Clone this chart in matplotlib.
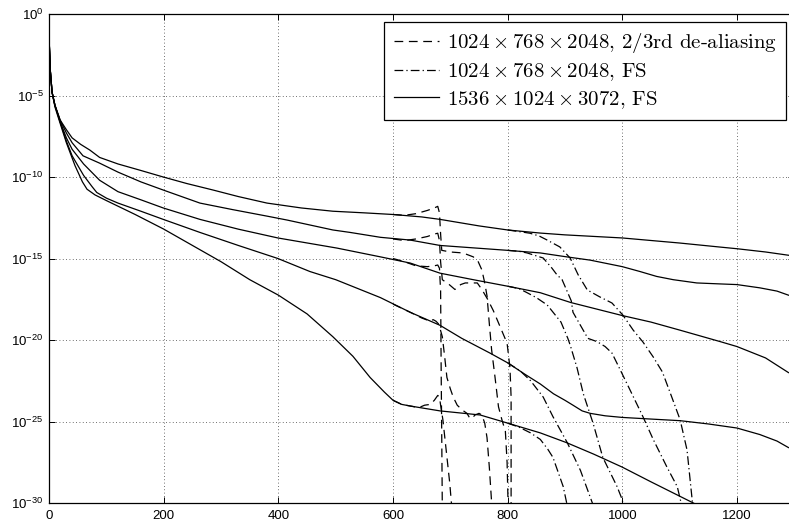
import numpy as np
import matplotlib
matplotlib.use("Agg")
import matplotlib.pyplot as plt

plt.rcParams['font.family'] = ['Liberation Sans', 'DejaVu Sans']
plt.rcParams['mathtext.fontset'] = 'cm'

# values: x, and log10 of y
# 1536 x 1024 x 3072, FS (solid)
s1_x = [0, 2, 5, 10, 19, 30, 40, 55, 71, 88, 120, 160, 199, 240, 286, 330, 380, 440, 495, 550, 600, 650, 682, 750, 800, 857, 900, 1000, 1100, 1171, 1200, 1250, 1290]
s1_y = [-1.7, -3.5, -4.8, -5.6, -6.5, -7.1, -7.6, -8.0, -8.35, -8.8, -9.2, -9.6, -10.0, -10.4, -10.8, -11.2, -11.6, -11.9, -12.1, -12.2, -12.3, -12.45, -12.6, -13.0, -13.25, -13.44, -13.55, -13.74, -14.05, -14.3, -14.4, -14.6, -14.8]
s2_x = [0, 2, 5, 10, 19, 30, 40, 59, 88, 120, 160, 199, 263, 320, 380, 415, 495, 525, 578, 630, 682, 800, 857, 903, 944, 1000, 1031, 1060, 1089, 1130, 1171, 1200, 1240, 1270, 1290]
s2_y = [-1.7, -3.5, -4.8, -5.6, -6.5, -7.3, -7.9, -8.7, -9.15, -9.7, -10.3, -10.8, -11.6, -12.0, -12.4, -12.64, -13.25, -13.4, -13.7, -13.87, -14.2, -14.5, -14.66, -14.9, -15.1, -15.5, -15.8, -16.1, -16.3, -16.5, -16.56, -16.6, -16.8, -17.0, -17.25]
s3_x = [0, 2, 5, 10, 19, 30, 40, 60, 88, 120, 160, 199, 263, 330, 399, 502, 578, 630, 682, 740, 800, 857, 910, 1000, 1050, 1101, 1171, 1200, 1250, 1290]
s3_y = [-1.7, -3.5, -4.8, -5.6, -6.6, -7.6, -8.3, -9.2, -10.2, -10.9, -11.4, -11.9, -12.6, -13.2, -13.74, -14.36, -14.9, -15.28, -15.9, -16.3, -16.7, -17.1, -17.7, -18.5, -18.9, -19.4, -20.1, -20.4, -21.1, -22.0]
s4_x = [0, 2, 5, 10, 19, 30, 40, 60, 75, 83, 100, 120, 160, 199, 263, 330, 399, 455, 500, 578, 630, 682, 720, 769, 800, 830, 857, 880, 900, 914, 930, 944, 970, 1000, 1050, 1101, 1150, 1200, 1240, 1270, 1290]
s4_y = [-1.7, -3.5, -4.8, -5.6, -6.6, -7.8, -8.7, -9.9, -10.6, -10.95, -11.3, -11.6, -12.1, -12.6, -13.4, -14.2, -15.0, -15.8, -16.3, -17.4, -18.3, -19.1, -19.9, -20.8, -21.4, -22.1, -22.7, -23.3, -23.7, -24.0, -24.35, -24.5, -24.65, -24.75, -24.85, -24.95, -25.15, -25.4, -25.8, -26.2, -26.6]
s5_x = [0, 2, 5, 10, 19, 30, 45, 58, 66, 80, 100, 150, 200, 250, 300, 350, 400, 450, 495, 530, 560, 585, 600, 615, 630, 682, 752, 800, 857, 903, 950, 1000, 1050, 1124, 1150]
s5_y = [-1.7, -3.5, -4.8, -5.7, -6.7, -7.9, -9.3, -10.3, -10.75, -11.1, -11.45, -12.3, -13.2, -14.2, -15.2, -16.3, -17.25, -18.4, -19.8, -21.0, -22.3, -23.2, -23.7, -23.95, -24.05, -24.35, -24.6, -25.1, -25.7, -26.3, -27.0, -27.8, -28.7, -30.0, -30.5]

# 1024 x 768 x 2048, 2/3rd de-aliasing (dashed), drawn from where they leave the solid curves
d1_x = [600, 620, 640, 660, 672, 678, 681, 683, 685, 700, 722, 740, 748, 755, 760, 764, 768, 772, 778, 784, 790, 796, 799, 801]
d1_y = [-12.3, -12.35, -12.25, -12.05, -11.9, -11.8, -12.2, -13.5, -14.5, -14.6, -14.66, -14.9, -15.15, -15.7, -16.5, -17.3, -19.0, -20.6, -22.3, -24.1, -24.9, -25.6, -27.5, -30.5]
d2_x = [600, 620, 640, 660, 672, 678, 681, 683, 686, 698, 708, 718, 726, 747, 755, 765, 775, 787, 799, 804, 806, 806]
d2_y = [-13.8, -13.9, -13.8, -13.65, -13.5, -13.45, -13.9, -15.2, -16.3, -16.6, -16.9, -16.6, -16.5, -16.5, -16.9, -17.5, -18.2, -19.2, -20.2, -21.7, -23.5, -30.5]
d3_x = [600, 620, 640, 660, 672, 678, 681, 683, 684, 685, 686]
d3_y = [-15.0, -15.2, -15.45, -15.5, -15.45, -15.4, -15.6, -17.0, -22.0, -26.0, -30.5]
d4_x = [600, 630, 650, 665, 670, 675, 679, 682, 686, 690, 694, 700, 705, 712, 721, 729, 734, 738, 743, 750, 755, 760, 764, 768, 773]
d4_y = [-17.8, -18.3, -18.65, -18.85, -18.75, -18.85, -19.0, -19.3, -19.8, -21.0, -22.3, -23.0, -23.5, -24.0, -24.3, -24.5, -24.8, -24.8, -24.6, -24.5, -24.6, -25.1, -26.0, -27.8, -30.5]
d5_x = [600, 615, 630, 645, 655, 665, 672, 678, 681, 683, 687, 691, 695, 699, 703]
d5_y = [-23.7, -23.95, -24.05, -24.15, -24.0, -23.95, -23.7, -23.4, -23.5, -24.0, -24.9, -26.2, -27.5, -28.8, -30.5]

# 1024 x 768 x 2048, FS (dash-dot)
f1_x = [800, 820, 839, 855, 869, 891, 909, 923, 939, 961, 982, 1001, 1019, 1036, 1054, 1070, 1087, 1101, 1113, 1124]
f1_y = [-13.25, -13.35, -13.45, -13.62, -13.87, -14.29, -14.97, -16.0, -16.93, -17.36, -17.73, -18.47, -19.39, -20.12, -21.04, -21.96, -23.56, -24.9, -26.75, -30.5]
f2_x = [800, 820, 834, 862, 877, 886, 895, 911, 914, 927, 940, 956, 970, 982, 996, 1014, 1036, 1054, 1078, 1096, 1106]
f2_y = [-14.5, -14.56, -14.66, -14.97, -15.58, -16.0, -16.3, -17.6, -18.3, -19.1, -19.9, -20.1, -20.4, -20.8, -21.8, -23.1, -24.7, -26.1, -27.8, -29.0, -30.5]
f3_x = [800, 820, 834, 850, 869, 877, 893, 905, 909, 921, 932, 949, 966, 991, 1000, 1003]
f3_y = [-16.7, -16.85, -17.1, -17.4, -17.85, -18.2, -18.9, -19.9, -20.3, -21.7, -23.3, -25.1, -27.2, -29.0, -29.8, -30.5]
f4_x = [800, 822, 840, 862, 879, 904, 927, 953]
f4_y = [-21.4, -21.9, -22.5, -23.5, -24.7, -26.3, -28.0, -30.5]
f5_x = [800, 820, 840, 857, 870, 879, 897, 906]
f5_y = [-25.1, -25.35, -25.7, -26.1, -26.7, -27.2, -29.0, -30.5]

legend_labels = [r'$1024 \times 768 \times 2048$, 2/3rd de-aliasing',
                 r'$1024 \times 768 \times 2048$, FS',
                 r'$1536 \times 1024 \times 3072$, FS']
y_ticks = [-30, -25, -20, -15, -10, -5, 0]
x_ticks = [0, 200, 400, 600, 800, 1000, 1200]

fig = plt.figure(figsize=(7.89, 5.28), dpi=100)
ax = fig.add_axes([49.2 / 789, 25 / 528, 745 / 789, 489 / 528])

dash = (0, (7, 4.5))
dashdot = (0, (7, 2.5, 1, 2.5))
lw = 0.9

solid = [(s1_x, s1_y), (s2_x, s2_y), (s3_x, s3_y), (s4_x, s4_y), (s5_x, s5_y)]
dashed = [(d1_x, d1_y), (d2_x, d2_y), (d3_x, d3_y), (d4_x, d4_y), (d5_x, d5_y)]
dotdash = [(f1_x, f1_y), (f2_x, f2_y), (f3_x, f3_y), (f4_x, f4_y), (f5_x, f5_y)]

for i, (x, y) in enumerate(dashed):
    ax.plot(x, 10.0 ** np.array(y), color='k', lw=lw, linestyle=dash,
            label=legend_labels[0] if i == 0 else None)
for i, (x, y) in enumerate(dotdash):
    ax.plot(x, 10.0 ** np.array(y), color='k', lw=lw, linestyle=dashdot,
            label=legend_labels[1] if i == 0 else None)
for i, (x, y) in enumerate(solid):
    ax.plot(x, 10.0 ** np.array(y), color='k', lw=lw, linestyle='-',
            label=legend_labels[2] if i == 0 else None)

ax.set_yscale('log')
ax.set_xlim(0, 1300)
ax.set_ylim(1e-30, 1e0)
ax.set_xticks(x_ticks)
ax.set_xticklabels([str(t) for t in x_ticks])
ax.set_yticks([10.0 ** t for t in y_ticks])
ax.set_yticklabels([r'$\mathregular{10^{%d}}$' % t for t in y_ticks])
ax.minorticks_off()
ax.tick_params(direction='in', length=4, width=0.7, top=True, right=True,
               labelsize=9.5)
ax.tick_params(axis='x', pad=5)
ax.tick_params(axis='y', pad=4)
ax.grid(True, which='major', color='0.25', linestyle=(0, (1, 3)), lw=0.6)
for sp in ax.spines.values():
    sp.set_linewidth(0.9)

leg = ax.legend(loc='upper right', bbox_to_anchor=(786 / 789, 1 - 22 / 528),
                bbox_transform=fig.transFigure, borderaxespad=0,
                prop={'family': 'cmr10', 'size': 15}, fancybox=False,
                framealpha=1, edgecolor='k', handlelength=2.2,
                handletextpad=0.35, labelspacing=0.28, borderpad=0.45)
leg.get_frame().set_linewidth(0.9)

fig.savefig('out.png', dpi=100)
